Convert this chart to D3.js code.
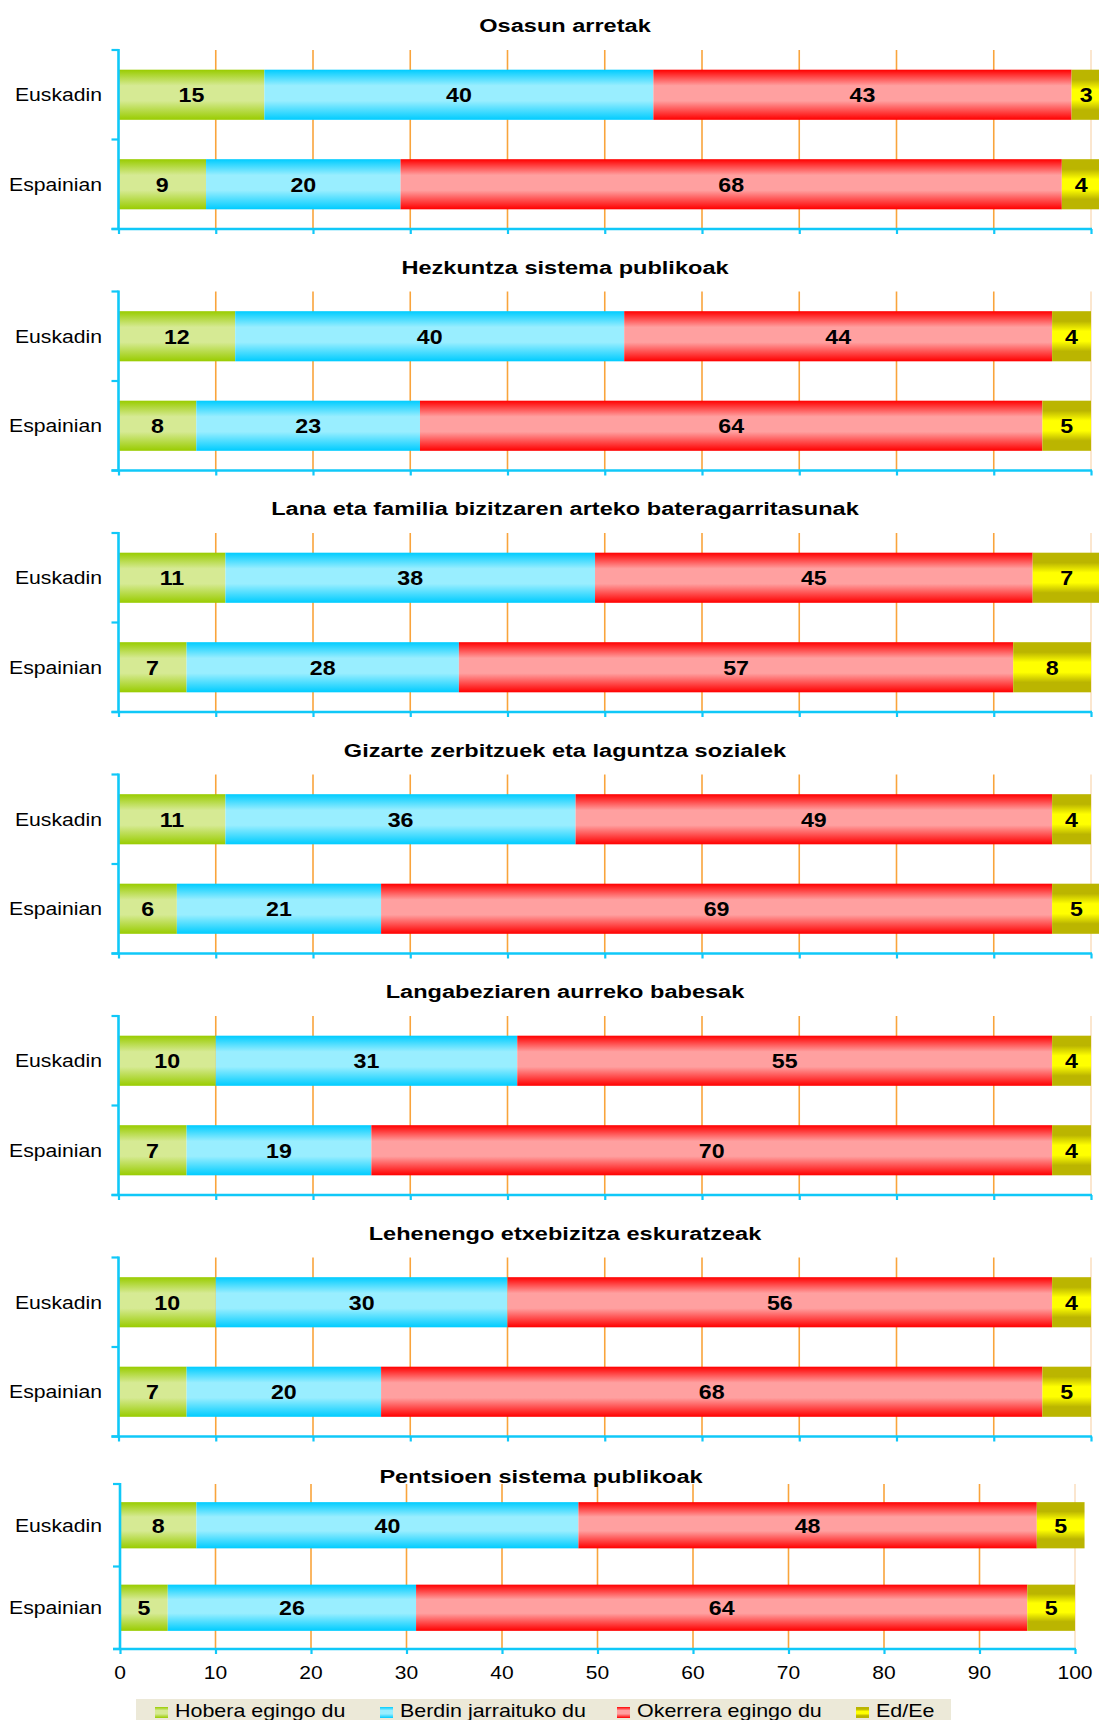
<!DOCTYPE html>
<html>
<head>
<meta charset="utf-8">
<script src="https://cdn.jsdelivr.net/npm/d3@7"></script>
<style>
  html, body { margin: 0; padding: 0; background: #ffffff; }
  svg { display: block; }
  text { font-family: "Liberation Sans", Arial, Helvetica, sans-serif; }
</style>
</head>
<body>
<div id="chart"></div>
<script>
// ---------------- data ----------------
const panelTitles = [
  "Osasun arretak",
  "Hezkuntza sistema publikoak",
  "Lana eta familia bizitzaren arteko bateragarritasunak",
  "Gizarte zerbitzuek eta laguntza sozialek",
  "Langabeziaren aurreko babesak",
  "Lehenengo etxebizitza eskuratzeak",
  "Pentsioen sistema publikoak"
];
const regions = ["Euskadin", "Espainian"];
const seriesNames = ["Hobera egingo du", "Berdin jarraituko du", "Okerrera egingo du", "Ed/Ee"];
// values per panel: [Euskadin, Espainian]
const hobera   = [[15, 9], [12, 8], [11, 7], [11, 6], [10, 7], [10, 7], [8, 5]];
const berdin   = [[40, 20], [40, 23], [38, 28], [36, 21], [31, 19], [30, 20], [40, 26]];
const okerrera = [[43, 68], [44, 64], [45, 57], [49, 69], [55, 70], [56, 68], [48, 64]];
const edee     = [[3, 4], [4, 5], [7, 8], [4, 5], [4, 4], [4, 5], [5, 5]];
const xTicks = [0, 10, 20, 30, 40, 50, 60, 70, 80, 90, 100];

// ---------------- styles / layout ----------------
const W = 1099, H = 1720;
const SX = 1.2; // horizontal stretch of the original text
const seriesColors = [
  { dark: "#99CC00", light: "#D6EA94" },
  { dark: "#00CCFF", light: "#99EEFF" },
  { dark: "#FF0000", light: "#FFA0A0" },
  { dark: "#BBB500", light: "#FFFF00" }
];
const axisColor = "#10C8F8";
const gridColor = "#F9A43C";

const panels = panelTitles.map((t, i) => {
  if (i < 6) {
    const top = 50 + i * 241.5;
    return { title: t, top: top, bottom: top + 179, x0: 118.5, x1: 1091, titleX: 565, titleY: top - 18 };
  }
  return { title: t, top: 1484, bottom: 1649, x0: 120, x1: 1075, titleX: 541, titleY: 1483 };
});

const svg = d3.select("#chart").append("svg")
  .attr("width", W).attr("height", H)
  .attr("viewBox", `0 0 ${W} ${H}`);

svg.append("rect").attr("width", W).attr("height", H).attr("fill", "#ffffff");

// gradients
const defs = svg.append("defs");
seriesColors.forEach((c, k) => {
  const g = defs.append("linearGradient")
    .attr("id", "grad" + k).attr("x1", 0).attr("y1", 0).attr("x2", 0).attr("y2", 1);
  const stops = k === 3
    ? [[0, c.dark], [0.2, c.dark], [0.4, c.light], [0.6, c.light], [0.8, c.dark], [1, c.dark]]
    : [[0, c.dark], [0.32, c.light], [0.62, c.light], [1, c.dark]];
  stops.forEach(([o, col]) => g.append("stop").attr("offset", o).attr("stop-color", col));
});

function stretchedText(parent, x, y, str, opts) {
  const g = parent.append("g").attr("transform", `translate(${x},${y})`);
  return g.append("text")
    .attr("transform", `scale(${opts.sx || SX},1)`)
    .attr("text-anchor", opts.anchor || "middle")
    .attr("font-size", opts.size)
    .attr("font-weight", opts.weight || "normal")
    .attr("fill", opts.fill || "#000")
    .text(str);
}

const allSeries = [hobera, berdin, okerrera, edee];

panels.forEach((p, pi) => {
  const x = d3.scaleLinear().domain([0, 100]).range([p.x0, p.x1]);
  const y = d3.scaleBand().domain(regions).range([p.top, p.bottom])
    .paddingInner(0.44).paddingOuter(0.22);
  const g = svg.append("g");

  // vertical gridlines
  g.selectAll("line.grid").data(xTicks.filter(d => d > 0)).enter().append("line")
    .attr("x1", d => x(d)).attr("x2", d => x(d))
    .attr("y1", p.top).attr("y2", p.bottom)
    .attr("stroke", d => d === 100 ? "#FBE6CF" : gridColor)
    .attr("stroke-width", d => d === 100 ? 2 : 1.6);

  // stacked bars
  const rows = regions.map((r, ri) => {
    let acc = 0;
    return allSeries.map((s, k) => {
      const v = s[pi][ri];
      const seg = { region: r, k: k, v: v, start: acc, end: acc + v };
      acc += v;
      return seg;
    });
  }).flat();

  g.selectAll("rect.bar").data(rows).enter().append("rect")
    .attr("x", d => x(d.start))
    .attr("y", d => y(d.region))
    .attr("width", d => x(d.end) - x(d.start))
    .attr("height", y.bandwidth())
    .attr("fill", d => `url(#grad${d.k})`);

  rows.forEach(d => {
    stretchedText(g, (x(d.start) + x(d.end)) / 2, y(d.region) + y.bandwidth() / 2 + 7.5,
      String(d.v), { size: 20, weight: "bold", sx: 1.16 });
  });

  // y axis
  g.append("line").attr("x1", p.x0).attr("x2", p.x0).attr("y1", p.top - 1).attr("y2", p.bottom + 1)
    .attr("stroke", axisColor).attr("stroke-width", 2.6);
  const tickYs = [p.top, (y(regions[0]) + y.bandwidth() + y(regions[1])) / 2, p.bottom];
  g.selectAll("line.ytick").data(tickYs).enter().append("line")
    .attr("x1", p.x0 - 7).attr("x2", p.x0).attr("y1", d => d).attr("y2", d => d)
    .attr("stroke", axisColor).attr("stroke-width", 2.2);

  regions.forEach(r => {
    stretchedText(g, 102, y(r) + y.bandwidth() / 2 + 6.5, r, { size: 17.5, anchor: "end", sx: 1.21 });
  });

  // x axis
  const xAxis = d3.axisBottom(x).tickValues(xTicks).tickSize(5).tickFormat("");
  const xa = g.append("g").attr("transform", `translate(0,${p.bottom})`).call(xAxis);
  xa.select(".domain").remove();
  xa.selectAll(".tick line").attr("stroke", axisColor).attr("stroke-width", 2.2);
  g.append("line").attr("x1", p.x0 - 7).attr("x2", p.x1 + 1).attr("y1", p.bottom).attr("y2", p.bottom)
    .attr("stroke", axisColor).attr("stroke-width", 2.6);

  if (pi === panels.length - 1) {
    xTicks.forEach(t => {
      stretchedText(g, x(t), p.bottom + 30, String(t), { size: 17.5, sx: 1.2 });
    });
  }

  // title
  stretchedText(g, p.titleX, p.titleY, p.title, { size: 19, weight: "bold", sx: 1.24 });
});

// legend
const lg = svg.append("g");
lg.append("rect").attr("x", 136).attr("y", 1699).attr("width", 815).attr("height", 40).attr("fill", "#ECE9D8");
const legendX = [155, 380, 617, 856];
seriesNames.forEach((n, k) => {
  lg.append("rect").attr("x", legendX[k]).attr("y", 1707).attr("width", 13).attr("height", 11)
    .attr("fill", `url(#grad${k})`);
  stretchedText(lg, legendX[k] + 20, 1717, n, { size: 18.5, anchor: "start", sx: 1.16 });
});
</script>
</body>
</html>
